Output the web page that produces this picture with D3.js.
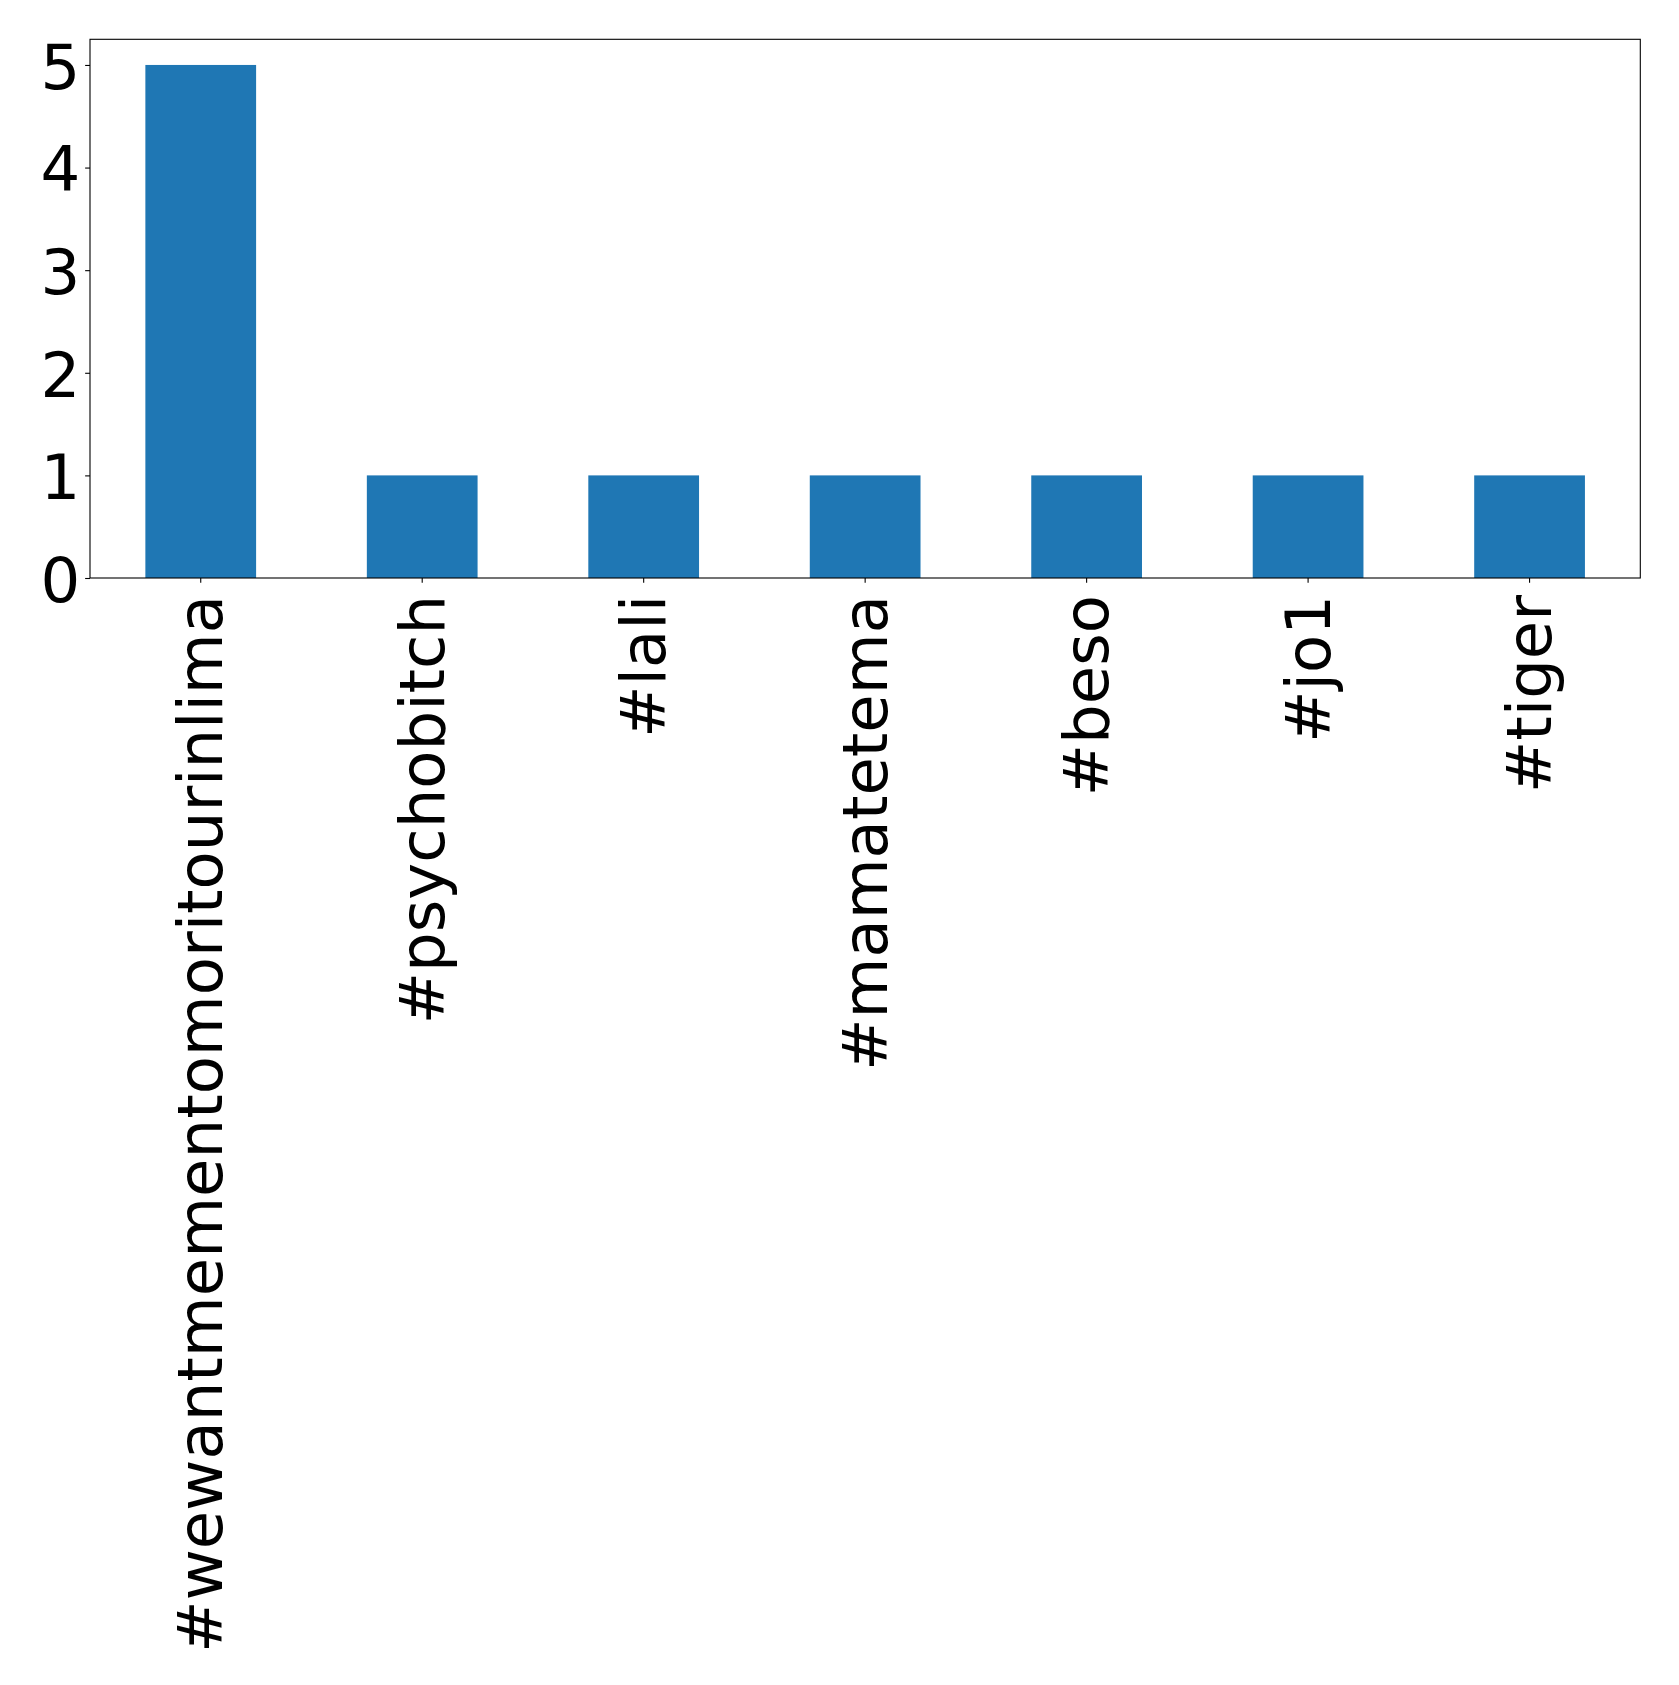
<!DOCTYPE html>
<html>
<head>
<meta charset="utf-8">
<script src="https://cdn.jsdelivr.net/npm/d3@7"></script>
<style>
  html, body { margin: 0; padding: 0; background: #fff; }
  svg { display: block; }
</style>
</head>
<body>
<svg id="chart" width="1679" height="1685"></svg>
<script>
const categories = ["#wewantmementomoritourinlima", "#psychobitch", "#lali", "#mamatetema", "#beso", "#jo1", "#tiger"];
const values = [5, 1, 1, 1, 1, 1, 1];
const yTicks = [0, 1, 2, 3, 4, 5];

const W = 1679, H = 1685;
const margin = { left: 90, top: 39.3, right: W - 1640.3, bottom: H - 578 };
const svg = d3.select("#chart");
const fontSize = 62.5;
const font = "'DejaVu Sans', sans-serif";

const x = d3.scaleBand()
  .domain(categories)
  .range([margin.left, W - margin.right])
  .paddingInner(0.5)
  .paddingOuter(0.25);

const y = d3.scaleLinear()
  .domain([0, 5.25])
  .range([H - margin.bottom, margin.top]);

// bars
svg.append("g").selectAll("rect")
  .data(categories.map((c, i) => ({ c, v: values[i] })))
  .join("rect")
  .attr("x", d => x(d.c))
  .attr("width", x.bandwidth())
  .attr("y", d => y(d.v))
  .attr("height", d => y(0) - y(d.v))
  .attr("fill", "#1f77b4");

// y axis
const yAxis = svg.append("g")
  .attr("transform", `translate(${margin.left},0)`)
  .call(d3.axisLeft(y).tickValues(yTicks).tickFormat(d3.format("d")).tickSize(4.86).tickPadding(4.86));
yAxis.select(".domain").remove();
yAxis.selectAll(".tick line").attr("stroke", "#000").attr("stroke-width", 1.1);
yAxis.selectAll(".tick text")
  .attr("font-family", font)
  .attr("font-size", fontSize)
  .attr("fill", "#000")
  .attr("dy", "0.375em");

// x axis
const xAxis = svg.append("g")
  .attr("transform", `translate(0,${H - margin.bottom})`)
  .call(d3.axisBottom(x).tickSize(4.86).tickPadding(4.86));
xAxis.select(".domain").remove();
xAxis.selectAll(".tick line").attr("stroke", "#000").attr("stroke-width", 1.1);
xAxis.selectAll(".tick text")
  .attr("font-family", font)
  .attr("font-size", fontSize)
  .attr("fill", "#000")
  .attr("text-anchor", "end")
  .attr("transform", "translate(0,17) rotate(-90)")
  .attr("x", 0)
  .attr("y", 0)
  .attr("dy", "0.344em");

// frame
svg.append("rect")
  .attr("x", margin.left)
  .attr("y", margin.top)
  .attr("width", W - margin.right - margin.left)
  .attr("height", H - margin.bottom - margin.top)
  .attr("fill", "none")
  .attr("stroke", "#000")
  .attr("stroke-width", 1.1);
</script>
</body>
</html>
